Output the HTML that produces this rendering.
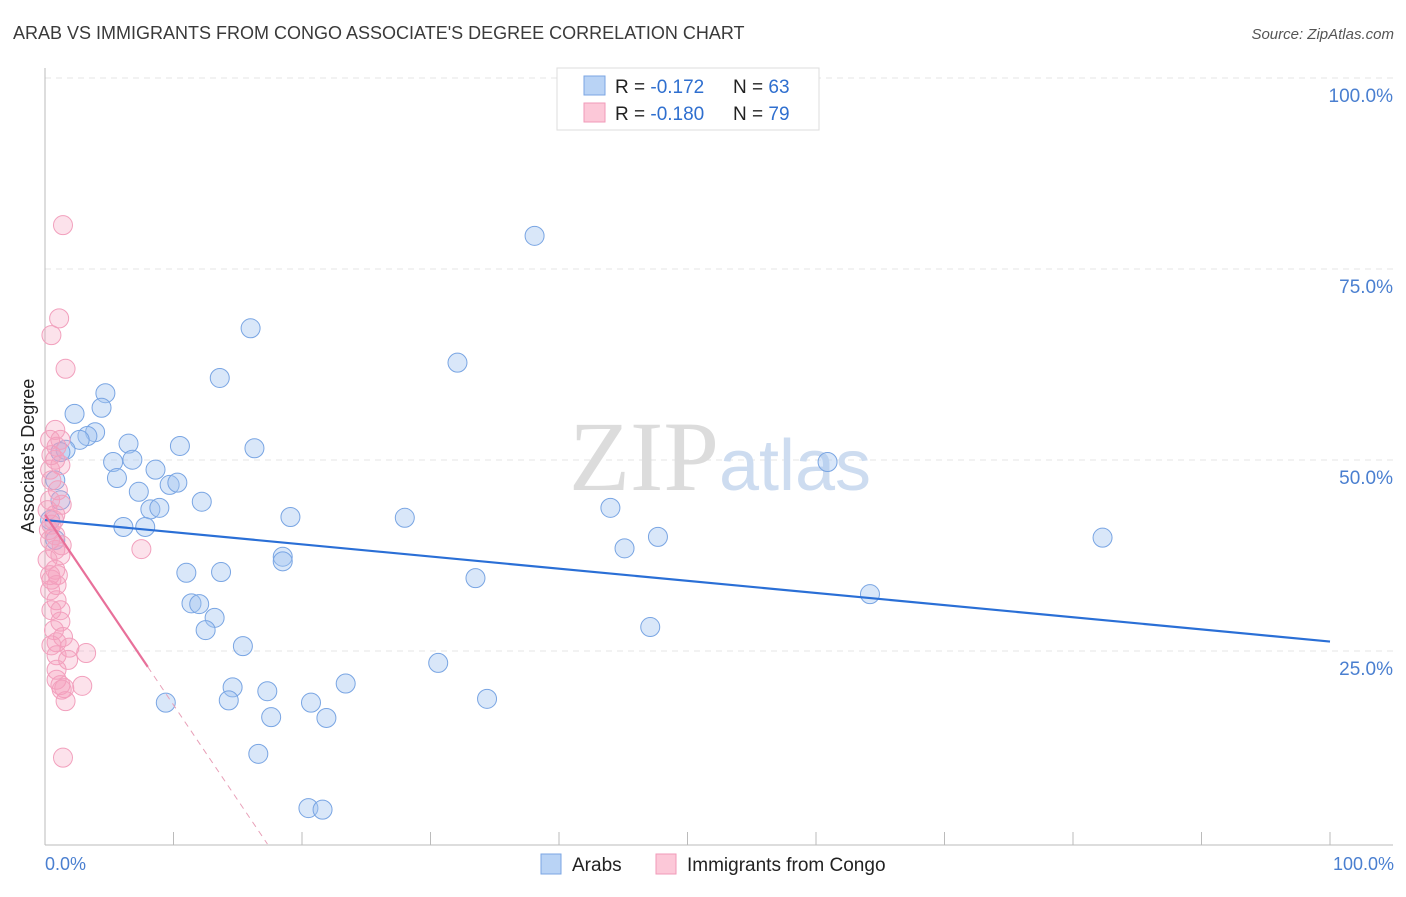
<!DOCTYPE html>
<html><head><meta charset="utf-8"><style>
body{margin:0;background:#fff;font-family:"Liberation Sans",sans-serif;}
</style></head><body>
<svg width="1406" height="892" viewBox="0 0 1406 892" xmlns="http://www.w3.org/2000/svg">
<text x="13" y="39" font-size="18" fill="#3a3a3a">ARAB VS IMMIGRANTS FROM CONGO ASSOCIATE'S DEGREE CORRELATION CHART</text>
<text x="1394" y="39" font-size="15" fill="#555" text-anchor="end" font-style="italic">Source: ZipAtlas.com</text>
<g id="grid"></g>
<text x="720" y="490" font-size="100" fill="#ddd" text-anchor="middle" font-family="Liberation Serif,serif"><tspan fill="#dcdcdc">ZIP</tspan><tspan fill="#cddcf0" font-family="Liberation Sans,sans-serif" font-size="72">atlas</tspan></text>
<line x1="45" y1="68" x2="45" y2="845" stroke="#bbb"/>
<line x1="45" y1="845" x2="1393" y2="845" stroke="#bbb"/>
<text transform="translate(34,456) rotate(-90)" font-size="18" fill="#222" text-anchor="middle">Associate's Degree</text>
<text x="45" y="870" font-size="18" fill="#4a7fd0">0.0%</text>
<text x="1394" y="870" font-size="18" fill="#4a7fd0" text-anchor="end">100.0%</text>
<g id="pts"></g>
<g id="lines"></g>
<g>
<rect x="557" y="68" width="262" height="62" fill="#fff" stroke="#ddd"/>
<rect x="584" y="76" width="21" height="19" fill="#b9d3f5" stroke="#7ba6e3"/>
<rect x="584" y="103" width="21" height="19" fill="#fcc8d8" stroke="#f19ab8"/>
<text x="615" y="93" font-size="19" fill="#222">R = <tspan fill="#2f6fcf"> -0.172</tspan><tspan x="733">N = </tspan><tspan fill="#2f6fcf">63</tspan></text>
<text x="615" y="120" font-size="19" fill="#222">R = <tspan fill="#2f6fcf">-0.180</tspan><tspan x="733">N = </tspan><tspan fill="#2f6fcf">79</tspan></text>
</g>
<g>
<rect x="541" y="854" width="20" height="20" fill="#b9d3f5" stroke="#7ba6e3"/>
<text x="572" y="871" font-size="19" fill="#222">Arabs</text>
<rect x="656" y="854" width="20" height="20" fill="#fcc8d8" stroke="#f19ab8"/>
<text x="687" y="871" font-size="19" fill="#222">Immigrants from Congo</text>
</g>
</svg>
<script>
const yTicks=[25,50,75,100];
const yTickLabels=["25.0%","50.0%","75.0%","100.0%"];
const xTicks=[0,10,20,30,40,50,60,70,80,90,100];
const arabX=[38.1,16.0,32.1,13.6,4.7,4.4,2.3,3.9,3.3,2.7,6.5,10.5,16.3,1.6,1.2,6.8,5.3,8.6,60.9,5.6,9.7,10.3,7.3,12.2,8.2,8.9,19.1,28.0,44.0,6.1,7.8,47.7,82.3,45.1,18.5,18.5,11.0,13.7,33.5,64.2,11.4,12.0,13.2,12.5,47.1,15.4,30.6,23.4,14.6,17.3,14.3,9.4,34.4,20.7,17.6,21.9,16.6,20.5,21.6,0.8,0.4,0.8,1.2];
const arabY=[79.6,67.5,63.0,61.0,59.0,57.1,56.3,53.9,53.4,52.9,52.4,52.1,51.8,51.6,51.3,50.3,50.0,49.0,50.0,47.9,47.0,47.3,46.1,44.8,43.8,44.0,42.8,42.7,44.0,41.5,41.5,40.2,40.1,38.7,37.6,37.0,35.5,35.6,34.8,32.7,31.5,31.4,29.6,28.0,28.4,25.9,23.7,21.0,20.5,20.0,18.8,18.5,19.0,18.5,16.6,16.5,11.8,4.7,4.5,39.8,42.4,47.6,45.0];
const congoX=[1.4,1.1,0.5,1.6,0.8,0.4,1.2,0.8,0.4,1.2,0.5,1.0,0.4,1.3,0.2,0.8,0.5,0.4,0.8,1.2,0.2,0.8,0.5,1.0,0.4,0.9,0.5,1.2,0.7,1.4,0.9,1.9,0.9,1.8,3.2,0.9,1.2,1.5,1.3,2.9,1.6,1.4,7.5,0.5,0.9,0.7,0.3,0.8,1.3,0.4,0.9,1.2,0.5,0.9];
const congoY=[81.0,68.8,66.6,62.2,54.2,52.9,52.9,50.3,49.0,49.6,47.6,46.3,45.0,44.4,43.7,43.1,41.8,39.8,38.5,37.8,37.2,35.9,34.6,35.2,33.2,31.9,30.6,29.1,28.0,27.1,26.4,25.7,24.7,24.1,25.0,21.5,20.8,20.4,20.2,20.7,18.7,11.3,38.6,50.9,52.0,42.4,41.1,40.4,39.1,35.2,33.9,30.6,26.0,22.8];
const arabTrend=[42.4,26.5];
const congoTrend=[43.1,-2.49];
const NS="http://www.w3.org/2000/svg";
const sx=v=>45+12.85*v, sy=v=>844-7.64*v;
function mk(t,a,p){const e=document.createElementNS(NS,t);for(const k in a)e.setAttribute(k,a[k]);p.appendChild(e);return e;}
const grid=document.getElementById('grid');
yTicks.forEach((t,i)=>{
 const l=mk('line',{x1:45,x2:1393,y1:sy(t)-2,y2:sy(t)-2,stroke:'#e4e4e4','stroke-dasharray':'6,5'},grid);
 
 
 const tx=mk('text',{x:1393,y:sy(t)+22,'font-size':19,fill:'#4a7fd0','text-anchor':'end'},grid);
 tx.textContent=yTickLabels[i];
 
 
});
xTicks.forEach(t=>{
 const l=mk('line',{x1:sx(t),x2:sx(t),y1:832,y2:845,stroke:'#bbb'},grid);
 
 
});
const pts=document.getElementById('pts');
arabX.forEach((x,i)=>{
 const c=mk('circle',{cx:sx(x),cy:sy(arabY[i]),r:9.5,fill:'rgba(160,195,240,0.4)',stroke:'#79a5e3','stroke-width':1},pts);
 
 
});
congoX.forEach((x,i)=>{
 const c=mk('circle',{cx:sx(x),cy:sy(congoY[i]),r:9.5,fill:'rgba(246,160,190,0.3)',stroke:'#f2a0bd','stroke-width':1},pts);
 
 
});
const ln=document.getElementById('lines');
const a=mk('line',{x1:sx(0),y1:sy(arabTrend[0]),x2:sx(100),y2:sy(arabTrend[1]),stroke:'#2a6fd6','stroke-width':2.2},ln);


const cy=x=>congoTrend[0]+congoTrend[1]*x;
const xEnd=-congoTrend[0]/congoTrend[1];
const c1=mk('line',{x1:sx(0),y1:sy(cy(0)),x2:sx(8),y2:sy(cy(8)),stroke:'#e8709a','stroke-width':2.2},ln);


const c2=mk('line',{x1:sx(8),y1:sy(cy(8)),x2:sx(xEnd),y2:sy(0),stroke:'#e8a0b8','stroke-width':1,'stroke-dasharray':'6,5'},ln);


</script>
</body></html>
